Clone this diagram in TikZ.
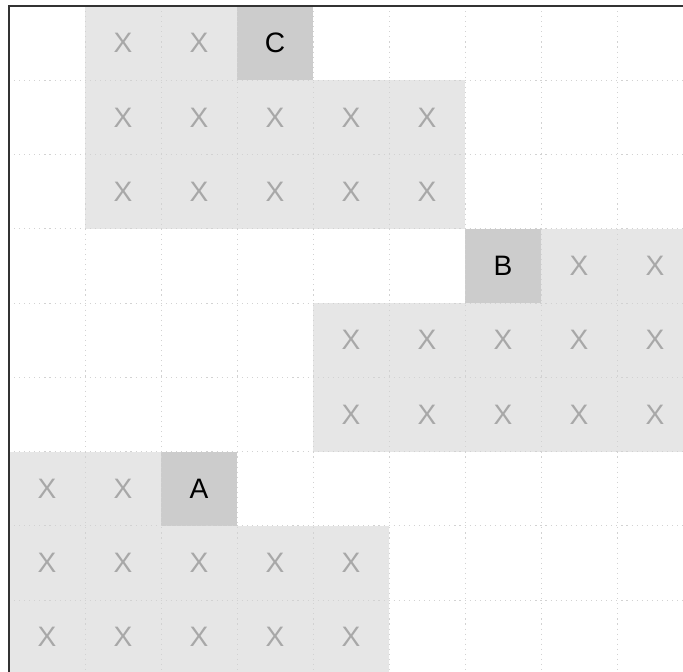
\documentclass[tikz,border=0pt]{standalone}
\usepackage{fontspec}
\setmainfont{Liberation Sans}
\definecolor{cellfree}{HTML}{E6E6E6}
\definecolor{cellmark}{HTML}{CCCCCC}
\definecolor{gridgray}{HTML}{D2D2D2}
\definecolor{crossgray}{HTML}{A8A8A8}

\begin{document}
\begin{tikzpicture}[
    x=1.9cm, y=-1.85625cm,
    cross/.style={text=crossgray, font=\fontsize{20}{24}\selectfont},
    tag/.style={text=black, font=\fontsize{20}{24}\selectfont},
    gridline/.style={gridgray, line width=0.5pt, dash pattern=on 0.8pt off 2.8pt}
]

% 0. Frame of the picture (grid is cut on the right and bottom)
\useasboundingbox (-0.1184,-0.0808) rectangle (8.868,8.956);

% 1. Free cells marked with X (row/first column/last column)
\foreach \r/\a/\b in {0/1/2, 1/1/5, 2/1/5, 3/7/8, 4/4/8, 5/4/8, 6/0/1, 7/0/4, 8/0/4} {
    \foreach \c in {\a,...,\b} {
        \fill[cellfree] (\c,\r) rectangle ++(1,1);
        \node[cross] (x\c\r) at (\c+0.5,\r+0.5) {X};
    }
}

% 2. Labelled cells
\foreach \c/\r/\name in {3/0/C, 6/3/B, 2/6/A} {
    \fill[cellmark] (\c,\r) rectangle ++(1,1);
    \node[tag] (\name) at (\c+0.5,\r+0.5) {\name};
}

% 3. Dotted grid
\foreach \i in {1,...,8} {
    \draw[gridline] (\i,0) -- (\i,9);
    \draw[gridline] (0,\i) -- (9,\i);
}

% 4. Outer border
\draw[line width=1.1pt, black!80] (0,0) rectangle (9,9);

\end{tikzpicture}
\end{document}
